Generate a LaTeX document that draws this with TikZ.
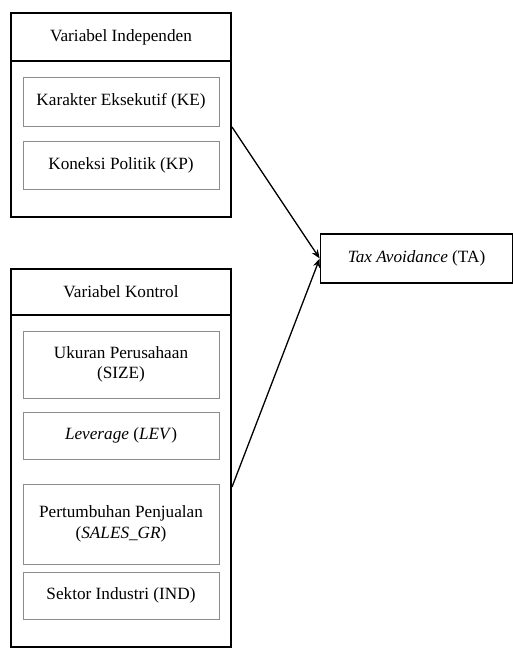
\documentclass[tikz,border=0pt]{standalone}
\usepackage{fontspec}
\setmainfont{Liberation Serif}
\usepackage{tikz}
\usetikzlibrary{arrows.meta}
\tikzset{every picture/.append style={font=\fontsize{17.2}{20.5}\selectfont}}
\definecolor{figgray}{HTML}{8C8C8C}
\tikzset{
  groupbox/.style={draw=black,line width=1.6pt},
  varbox/.style={draw=figgray,line width=0.9pt,minimum width=196pt,align=center,inner sep=0pt},
  headbox/.style={minimum width=220pt,minimum height=48pt,inner sep=0pt},
}

\begin{document}
\begin{tikzpicture}[x=1pt,y=-1pt]
    \useasboundingbox (0,0) rectangle (513,648);
    % kelompok variabel
    \draw[groupbox] (11,13) rectangle (231,217);
    \draw[groupbox] (11,61) -- (231,61);
    \draw[groupbox] (11,269) rectangle (231,647);
    \draw[groupbox] (11,315) -- (231,315);
    \node[headbox] (indep) at (121,37) {Variabel Independen};
    \node[headbox] (kontrol) at (121,292) {Variabel Kontrol};
    % variabel
    \node[varbox,minimum height=49pt] (ke) at (121,101.5) {Karakter Eksekutif (KE)};
    \node[varbox,minimum height=48pt] (kp) at (121,165) {Koneksi Politik (KP)};
    \node[varbox,minimum height=67pt] (size) at (121,364.5) {Ukuran Perusahaan\\(SIZE)};
    \node[varbox,minimum height=47pt] (lev) at (121,435.5) {\textit{Leverage} (\textit{LEV})};
    \node[varbox,minimum height=80pt] (sales) at (121,524) {Pertumbuhan Penjualan\\(\textit{SALES\_GR})};
    \node[varbox,minimum height=47pt] (ind) at (121,595.5) {Sektor Industri (IND)};
    \node[draw,line width=1.6pt,minimum width=192pt,minimum height=49pt,inner sep=0pt] (ta) at (416.5,258.5) {\textit{Tax Avoidance} (TA)};
    \coordinate (a) at (232,127);
    \coordinate (b) at (232,487);
    \draw[line width=1.3pt,-{Stealth[length=9pt,width=7pt]}] (a) -- (ta.west);
    \draw[line width=1.3pt,-{Stealth[length=9pt,width=7pt]}] (b) -- (ta.west);
  \end{tikzpicture}
\end{document}
